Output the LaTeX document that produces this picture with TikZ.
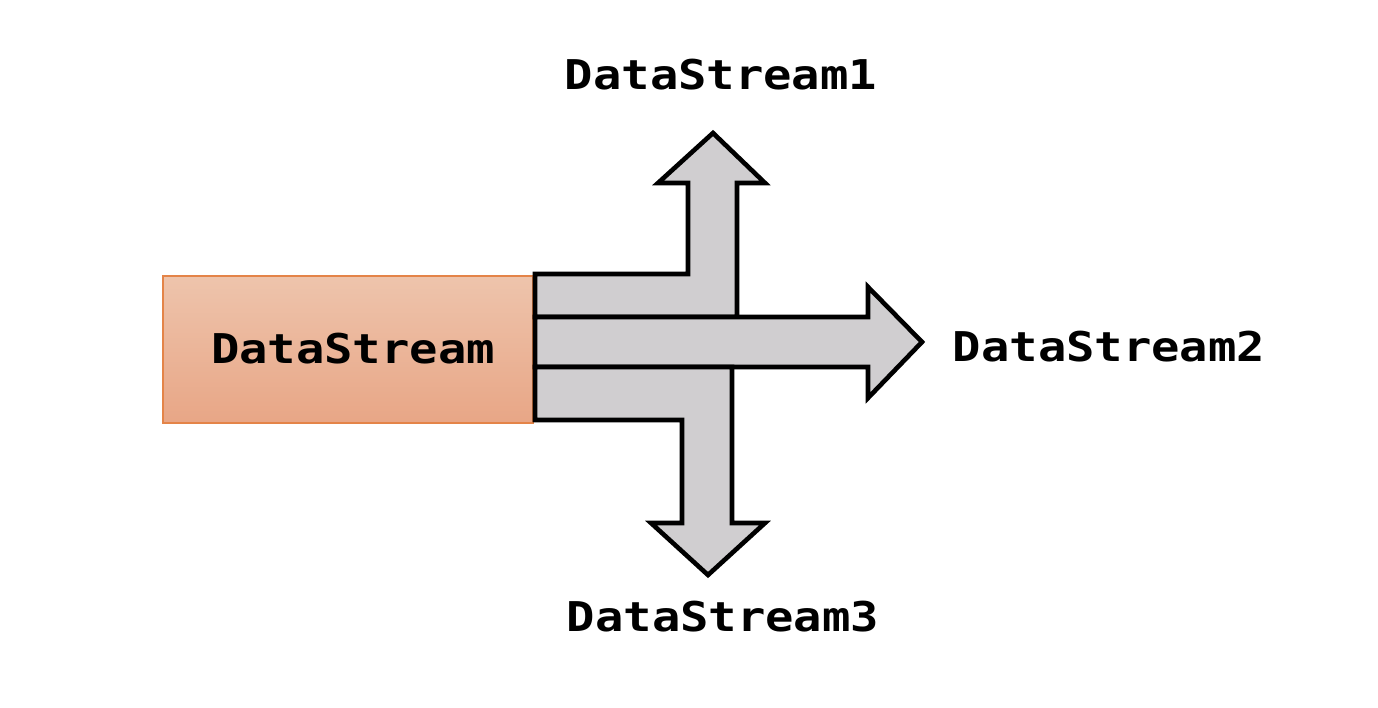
\documentclass[tikz,border=0pt]{standalone}
\usepackage{fontspec}
\newfontfamily\streamfont[FakeStretch=1.15]{DejaVu Sans Mono}
\usetikzlibrary{positioning}
\definecolor{boxline}{RGB}{228,132,72}
\definecolor{boxtop}{RGB}{238,196,172}
\definecolor{boxbot}{RGB}{232,166,134}
\definecolor{flowgray}{RGB}{208,206,208}
\tikzstyle{srcbox} = [draw=boxline, line width=2pt, top color=boxtop, bottom color=boxbot, minimum width=370pt, minimum height=147pt, inner sep=0pt]
\tikzstyle{streamlabel} = [font=\streamfont\bfseries\fontsize{41}{49}\selectfont, text=black, inner sep=0pt]
\tikzstyle{flowarrow} = [draw=black, line width=4.6pt, fill=flowgray, line join=miter]

\begin{document}
\begin{tikzpicture}[x=1pt,y=-1pt]
	\useasboundingbox (0,0) rectangle (1378,708);

	% the incoming stream
	\node [srcbox] (src) at (348,349.5) {};
	\node [streamlabel] (srctext) at (353,349) {DataStream};

	% split into three flows
	\draw [flowarrow] (535,274) -- (688,274) -- (688,183) -- (658,183) -- (713,133)
		-- (765,183) -- (737,183) -- (737,317) -- (535,317) -- cycle;
	\draw [flowarrow] (535,317) -- (868,317) -- (868,287) -- (922,342)
		-- (868,398) -- (868,367) -- (535,367) -- cycle;
	\draw [flowarrow] (535,367) -- (732,367) -- (732,523) -- (765,523) -- (708,575)
		-- (651,523) -- (682,523) -- (682,420) -- (535,420) -- cycle;

	% outgoing streams
	\node [streamlabel] (out1) at (721,75) {DataStream1};
	\node [streamlabel] (out2) at (1109,347) {DataStream2};
	\node [streamlabel] (out3) at (723,617) {DataStream3};

\end{tikzpicture}
\end{document}
